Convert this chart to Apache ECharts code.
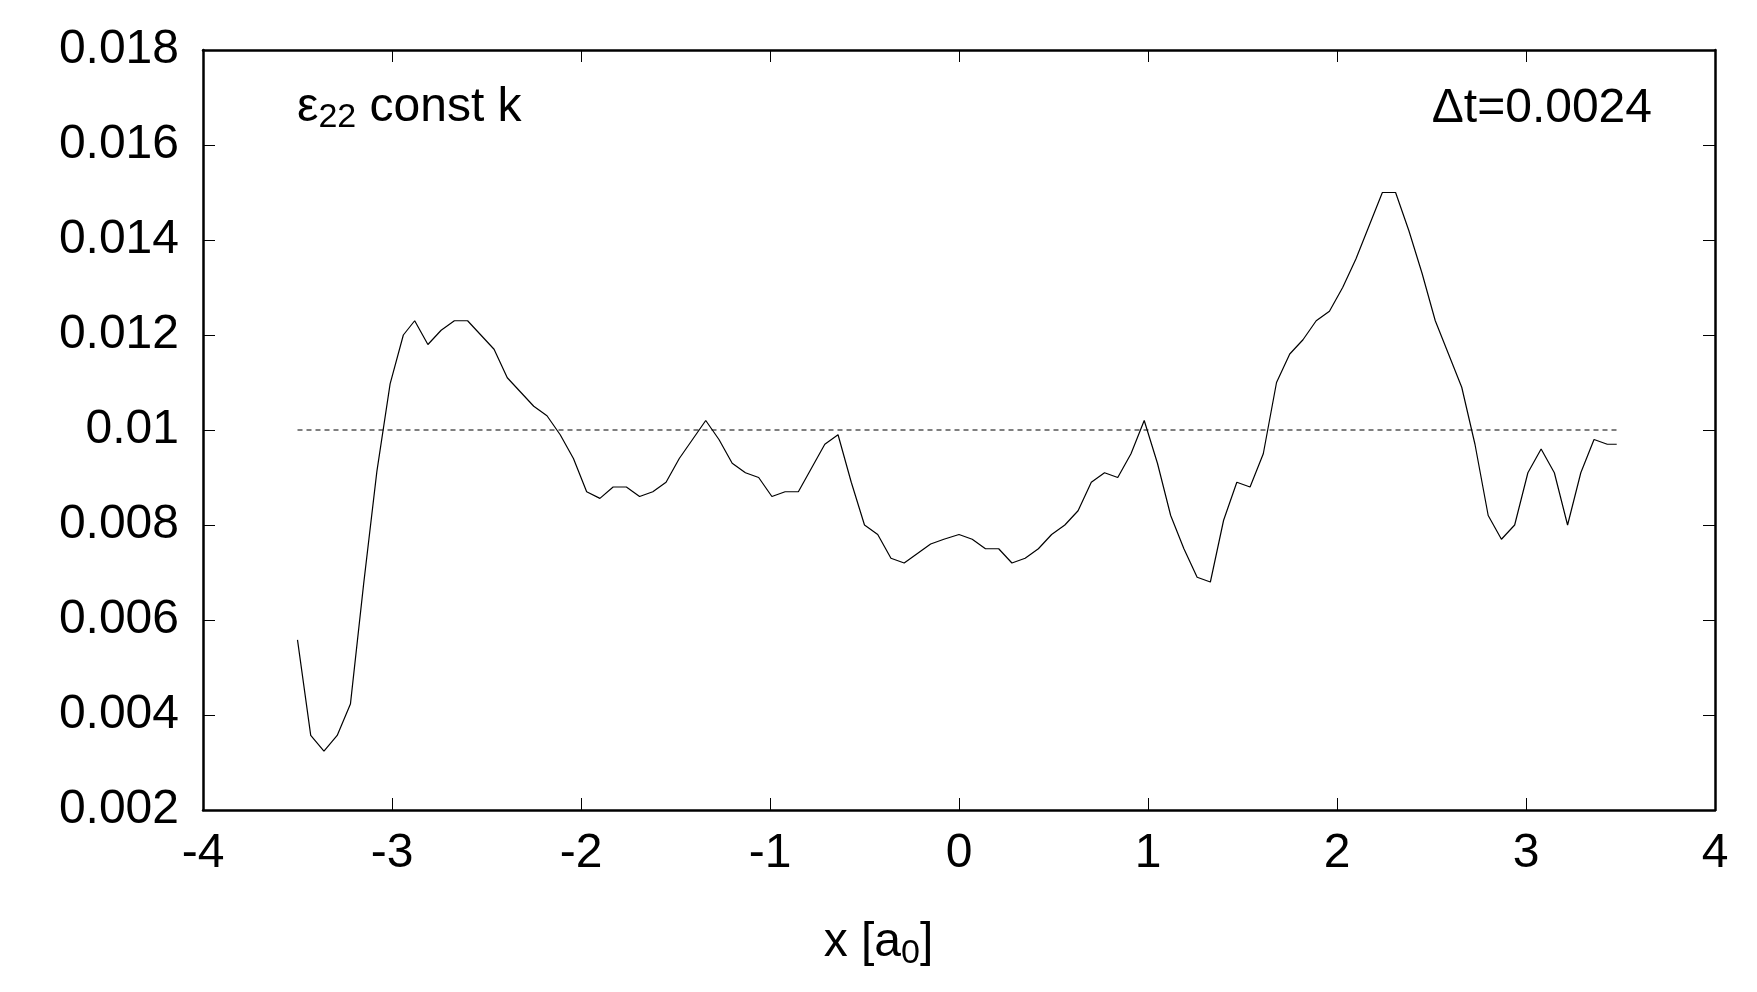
<!DOCTYPE html>
<html>
<head>
<meta charset="utf-8">
<script src="https://cdn.jsdelivr.net/npm/echarts@6/dist/echarts.min.js"></script>
<style>
  html, body { margin: 0; padding: 0; background: #fff; }
  #chart { width: 1757px; height: 992px; }
</style>
</head>
<body>
<div id="chart"></div>
<script>
const xValues = [-3.50,-3.43,-3.36,-3.29,-3.22,-3.15,-3.08,-3.01,-2.94,-2.88,-2.81,-2.74,-2.67,-2.60,-2.53,-2.46,-2.39,-2.32,-2.25,-2.18,-2.11,-2.04,-1.97,-1.90,-1.83,-1.76,-1.69,-1.62,-1.55,-1.48,-1.41,-1.34,-1.27,-1.20,-1.13,-1.06,-0.99,-0.92,-0.85,-0.78,-0.71,-0.64,-0.57,-0.50,-0.43,-0.36,-0.29,-0.22,-0.15,-0.08,0.00,0.07,0.14,0.21,0.28,0.35,0.42,0.49,0.56,0.63,0.70,0.77,0.84,0.91,0.98,1.05,1.12,1.19,1.26,1.33,1.40,1.47,1.54,1.61,1.68,1.75,1.82,1.89,1.96,2.03,2.10,2.17,2.24,2.31,2.38,2.45,2.52,2.59,2.66,2.73,2.80,2.87,2.94,3.01,3.08,3.15,3.22,3.29,3.36,3.43,3.48];
const strainValues = [0.00558,0.00357,0.00324,0.00357,0.00423,0.00676,0.00913,0.01097,0.0120,0.0123,0.0118,0.0121,0.0123,0.0123,0.0120,0.0117,0.0111,0.0108,0.0105,0.0103,0.0099,0.0094,0.0087,0.00856,0.0088,0.0088,0.0086,0.0087,0.0089,0.0094,0.0098,0.0102,0.0098,0.0093,0.0091,0.0090,0.0086,0.0087,0.0087,0.0092,0.0097,0.0099,0.0089,0.0080,0.0078,0.0073,0.0072,0.0074,0.0076,0.0077,0.0078,0.0077,0.0075,0.0075,0.0072,0.0073,0.0075,0.0078,0.0080,0.0083,0.0089,0.0091,0.0090,0.0095,0.0102,0.0093,0.0082,0.0075,0.0069,0.0068,0.0081,0.0089,0.0088,0.0095,0.0110,0.0116,0.0119,0.0123,0.0125,0.0130,0.0136,0.0143,0.0150,0.0150,0.0142,0.0133,0.0123,0.0116,0.0109,0.0097,0.0082,0.0077,0.0080,0.0091,0.0096,0.0091,0.0080,0.0091,0.0098,0.0097,0.0097];
const refX = [-3.5, 3.5];
const refY = [0.01, 0.01];

const font = '"Liberation Sans", Arial, sans-serif';
const chart = echarts.init(document.getElementById('chart'));

const baseX = {
  type: 'value', min: -4, max: 4, interval: 1,
  axisLine: { show: true, onZero: false, lineStyle: { color: '#000', width: 2.5 } },
  axisTick: { inside: true, length: 12, lineStyle: { color: '#000', width: 1 } },
  splitLine: { show: false }
};
const baseY = {
  type: 'value', min: 0.002, max: 0.018, interval: 0.002,
  axisLine: { show: true, onZero: false, lineStyle: { color: '#000', width: 2.5 } },
  axisTick: { inside: true, length: 12, lineStyle: { color: '#000', width: 1 } },
  splitLine: { show: false }
};

chart.setOption({
  animation: false,
  backgroundColor: '#fff',
  grid: { left: 203, right: 42, top: 50, bottom: 182 },
  title: [
    {
      left: 292, top: 76,
      text: '{e|ε}{s|22}{e| const k}',
      textStyle: { rich: {
        e: { fontFamily: font, fontSize: 48, fontWeight: 'normal', color: '#000' },
        s: { fontFamily: font, fontSize: 34, fontWeight: 'normal', color: '#000', padding: [20, 0, 0, 0] }
      } }
    },
    {
      right: 100, top: 80, text: 'Δt=0.0024',
      textStyle: { fontFamily: font, fontSize: 48, fontWeight: 'normal', color: '#000' }
    },
    {
      left: 'center', top: 910,
      text: '{e|x [a}{s|0}{e|]}',
      textStyle: { rich: {
        e: { fontFamily: font, fontSize: 48, fontWeight: 'normal', color: '#000' },
        s: { fontFamily: font, fontSize: 34, fontWeight: 'normal', color: '#000', padding: [22, 0, 0, 0] }
      } }
    }
  ],
  xAxis: [
    Object.assign({}, baseX, { position: 'bottom',
      axisLabel: { fontFamily: font, fontSize: 48, color: '#000', margin: 20,
        formatter: v => String(v) } }),
    Object.assign({}, baseX, { position: 'top', axisLabel: { show: false } })
  ],
  yAxis: [
    Object.assign({}, baseY, { position: 'left',
      axisLabel: { fontFamily: font, fontSize: 48, color: '#000', margin: 24,
        formatter: v => String(Number(v.toFixed(3))) } }),
    Object.assign({}, baseY, { position: 'right', axisLabel: { show: false } })
  ],
  series: [
    {
      type: 'line', symbol: 'none',
      data: xValues.map((x, i) => [x, strainValues[i]]),
      lineStyle: { color: '#000', width: 1.2 }
    },
    {
      type: 'line', symbol: 'none',
      data: refX.map((x, i) => [x, refY[i]]),
      lineStyle: { color: '#000', width: 1.2, type: [5, 4] }
    }
  ]
});
</script>
</body>
</html>
